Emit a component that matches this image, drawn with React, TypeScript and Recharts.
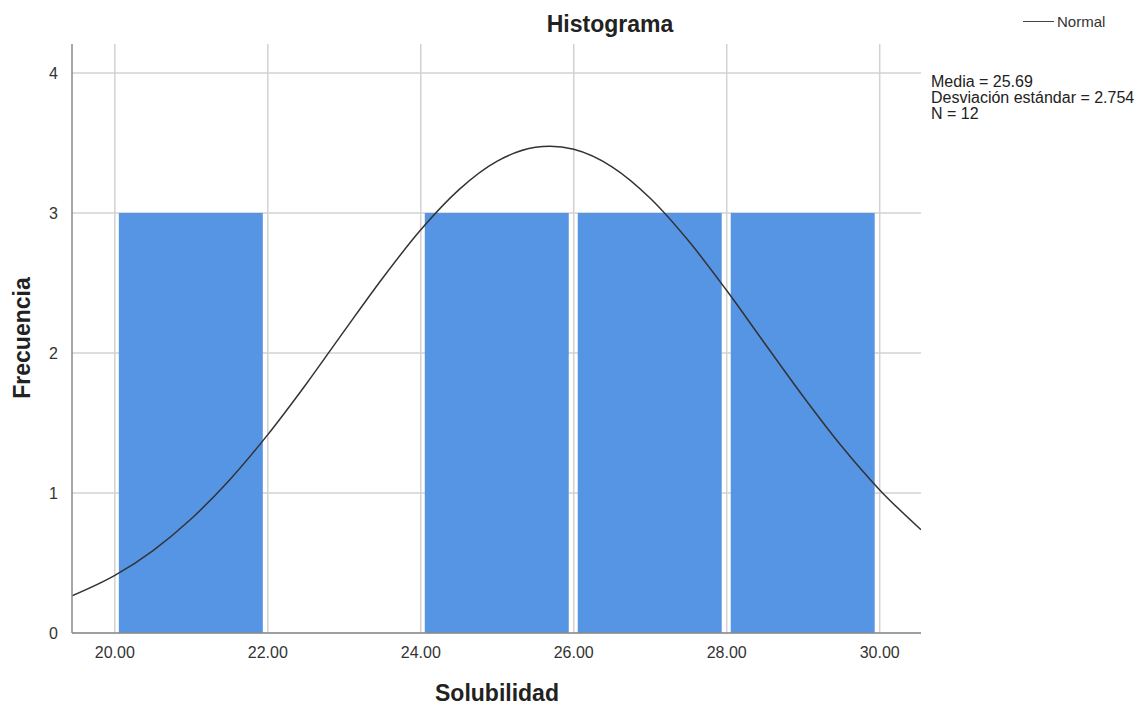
import React from "react";
import { ComposedChart, Line, XAxis, YAxis, CartesianGrid, ReferenceArea } from "recharts";

// Histogram bins (Solubilidad) and frequencies
const binStarts = [20, 22, 24, 26, 28];
const binEnds = [22, 24, 26, 28, 30];
const frequencies = [3, 0, 3, 3, 3];

// Normal curve points
const curveX = [19.44, 20, 20.5, 21, 21.5, 22, 22.5, 23, 23.5, 24, 24.5, 25, 25.5, 25.69, 26, 26.5, 27, 27.5, 28, 28.5, 29, 29.5, 30, 30.54];
const curveY = [0.265, 0.411, 0.589, 0.816, 1.093, 1.417, 1.777, 2.158, 2.534, 2.88, 3.167, 3.37, 3.469, 3.477, 3.455, 3.33, 3.105, 2.801, 2.446, 2.066, 1.689, 1.335, 1.022, 0.738];

const xTicks = [20, 22, 24, 26, 28, 30];
const yTicks = [0, 1, 2, 3, 4];

const statsLines = ["Media = 25.69", "Desviación estándar = 2.754", "N = 12"];

const data = curveX.map((x, i) => ({ x, y: curveY[i] }));

const FONT = "'Liberation Sans', Arial, sans-serif";

const BarShape = (props: any) => {
  const { x, y, width, height } = props;
  if (!height || height <= 0) return null;
  return <rect x={x + 4} y={y} width={Math.max(0, width - 9)} height={height} fill="#5694e4" />;
};

export default function App() {
  return (
    <div style={{ position: "absolute", left: 0, top: 0, width: 1140, height: 706, background: "#fff", fontFamily: FONT }}>
      <ComposedChart
        width={1140}
        height={706}
        data={data}
        margin={{ top: 44, right: 219, bottom: 43, left: 32 }}
      >
        <CartesianGrid stroke="#d2d2d2" strokeWidth={1.5} verticalValues={xTicks} horizontalValues={yTicks} />
        <XAxis
          dataKey="x"
          type="number"
          domain={[19.44, 30.54]}
          ticks={xTicks}
          allowDataOverflow
          tickFormatter={(v: number) => v.toFixed(2)}
          tickLine={false}
          axisLine={{ stroke: "#8a8a8a", strokeWidth: 1.5 }}
          tick={{ fill: "#333", fontSize: 16, fontFamily: FONT }}
          tickMargin={8}
          height={30}
        />
        <YAxis
          type="number"
          domain={[0, 4.207]}
          ticks={yTicks}
          allowDataOverflow
          tickLine={false}
          axisLine={{ stroke: "#8a8a8a", strokeWidth: 1.5 }}
          tick={{ fill: "#333", fontSize: 16, fontFamily: FONT }}
          tickMargin={8}
          width={40}
        />
        {binStarts.map((s, i) => (
          <ReferenceArea
            key={i}
            x1={s}
            x2={binEnds[i]}
            y1={0}
            y2={frequencies[i]}
            shape={BarShape}
            ifOverflow="visible"
          />
        ))}
        <Line
          dataKey="y"
          type="monotone"
          stroke="#333"
          strokeWidth={1.5}
          dot={false}
          isAnimationActive={false}
        />
      </ComposedChart>
      <div style={{ position: "absolute", left: 460, top: 10, width: 300, textAlign: "center", fontWeight: "bold", fontSize: 23, lineHeight: "28px", color: "#222" }}>
        Histograma
      </div>
      <div style={{ position: "absolute", left: 1023, top: 11, height: 20, display: "flex", alignItems: "center", fontSize: 15, color: "#333" }}>
        <div style={{ width: 31, height: 0, borderTop: "1.5px solid #444", marginRight: 3 }} />
        <span>Normal</span>
      </div>
      <div style={{ position: "absolute", left: 931, top: 74, fontSize: 16, lineHeight: "16px", color: "#222" }}>
        {statsLines.map((l, i) => (
          <div key={i}>{l}</div>
        ))}
      </div>
      <div style={{ position: "absolute", left: 347, top: 679, width: 300, textAlign: "center", fontWeight: "bold", fontSize: 23, lineHeight: "28px", color: "#222" }}>
        Solubilidad
      </div>
      <div style={{ position: "absolute", left: 22, top: 338, width: 0, height: 0 }}>
        <div style={{ position: "absolute", left: -150, top: -14, width: 300, textAlign: "center", transform: "rotate(-90deg)", fontWeight: "bold", fontSize: 23, color: "#222", lineHeight: "28px" }}>
          Frecuencia
        </div>
      </div>
    </div>
  );
}
